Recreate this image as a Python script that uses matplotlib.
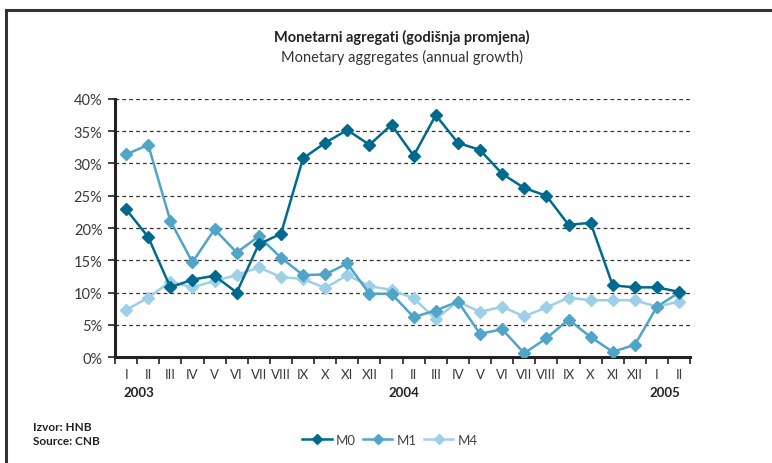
import matplotlib
matplotlib.use("Agg")
import matplotlib.pyplot as plt
from matplotlib.lines import Line2D

plt.rcParams['font.family'] = ['Lato', 'DejaVu Sans']

months = ["I", "II", "III", "IV", "V", "VI", "VII", "VIII", "IX", "X", "XI", "XII",
          "I", "II", "III", "IV", "V", "VI", "VII", "VIII", "IX", "X", "XI", "XII",
          "I", "II"]
years = ["2003", "2004", "2005"]

m0 = [22.9, 18.6, 10.8, 12.0, 12.6, 10.0, 17.5, 19.1, 30.8, 33.2, 35.2, 32.9,
      36.0, 31.2, 37.5, 33.2, 32.1, 28.4, 26.2, 25.0, 20.5, 20.8, 11.1, 10.8,
      10.8, 10.1]
m1 = [31.4, 32.9, 21.1, 14.7, 19.8, 16.2, 18.7, 15.4, 12.7, 12.8, 14.5, 9.8,
      9.8, 6.2, 7.2, 8.6, 3.6, 4.3, 0.6, 2.9, 5.8, 3.1, 0.8, 1.9,
      7.8, 10.0]
m4 = [7.3, 9.2, 11.7, 10.8, 11.8, 12.7, 13.9, 12.4, 12.1, 10.7, 12.7, 11.0,
      10.4, 9.1, 5.9, 8.6, 7.0, 7.8, 6.3, 7.7, 9.2, 8.8, 8.8, 8.8,
      7.8, 8.6]
series_names = ["M0", "M1", "M4"]
colors = ["#006a8e", "#4fa4c7", "#9dd0e7"]

fig = plt.figure(figsize=(7.72, 4.64), dpi=100)
ax = fig.add_axes([0.149, 0.2284, 0.745, 0.5561])

x = list(range(len(months)))
for vals, c, name in zip([m4, m1, m0], colors[::-1], series_names[::-1]):
    ax.plot(x, vals, color=c, lw=1.8, marker='D', markersize=6.5,
            markeredgecolor=c, label=name, zorder=3)

ax.set_xlim(-0.5, len(months) - 0.5)
ax.set_ylim(0, 40)
yt = list(range(0, 41, 5))
ax.set_yticks(yt)
ax.set_yticklabels([f"{v}%" for v in yt], fontsize=10.5, color="#3a3a3a")
for v in yt[1:]:
    ax.axhline(v, color="#333333", lw=0.9, ls=(0, (3, 2.5)), zorder=1)

ax.set_xticks(x)
ax.set_xticklabels(months, fontsize=9.5, color="#3a3a3a")
ax.tick_params(axis='x', which='major', length=0, pad=8)
ax.set_xticks([i - 0.5 for i in range(len(months) + 1)], minor=True)
ax.tick_params(axis='x', which='minor', length=5, width=1.2, color="#222222", direction='out')
ax.tick_params(axis='y', length=5, width=1.2, color="#222222", direction='out', pad=4)

for s in ['top', 'right']:
    ax.spines[s].set_visible(False)
for s in ['left', 'bottom']:
    ax.spines[s].set_linewidth(2.2)
    ax.spines[s].set_color("#222222")

ax.text(-0.1, -0.135, years[0], transform=ax.get_xaxis_transform(), ha='left', va='center',
        fontsize=9.5, fontweight='bold', color="#222222")
ax.text(11.85, -0.135, years[1], transform=ax.get_xaxis_transform(), ha='left', va='center',
        fontsize=9.5, fontweight='bold', color="#222222")
ax.text(25.05, -0.135, years[2], transform=ax.get_xaxis_transform(), ha='right', va='center',
        fontsize=9.5, fontweight='bold', color="#222222")

fig.text(0.521, 1 - 37 / 464, "Monetarni agregati (godišnja promjena)", ha='center', va='center',
         fontsize=10.5, fontweight='bold', color="#222222")
fig.text(0.521, 1 - 57 / 464, "Monetary aggregates (annual growth)", ha='center', va='center',
         fontsize=10.5, color="#333333")

fig.text(33 / 772, 1 - 428 / 464, "Izvor: HNB", ha='left', va='center', fontsize=8.5,
         fontweight='bold', color="#222222")
fig.text(33 / 772, 1 - 442 / 464, "Source: CNB", ha='left', va='center', fontsize=8.5,
         fontweight='bold', color="#222222")

handles = [Line2D([0], [0], color=c, lw=1.8, marker='D', markersize=5, markeredgecolor=c)
           for c in colors]
fig.legend(handles, series_names, loc='center', bbox_to_anchor=(390 / 772, 1 - 441 / 464),
           ncol=3, frameon=False, fontsize=9.5, handlelength=2.2, handletextpad=0.3,
           columnspacing=0.6, labelcolor="#444444")

fig.add_artist(Line2D([6 / 772, 1], [1 - 11 / 464, 1 - 11 / 464], color="#333333", lw=2.2,
                      transform=fig.transFigure))
fig.add_artist(Line2D([6 / 772, 6 / 772], [0, 1 - 11 / 464], color="#333333", lw=2.2,
                      transform=fig.transFigure))

fig.savefig("out.png", dpi=100)
